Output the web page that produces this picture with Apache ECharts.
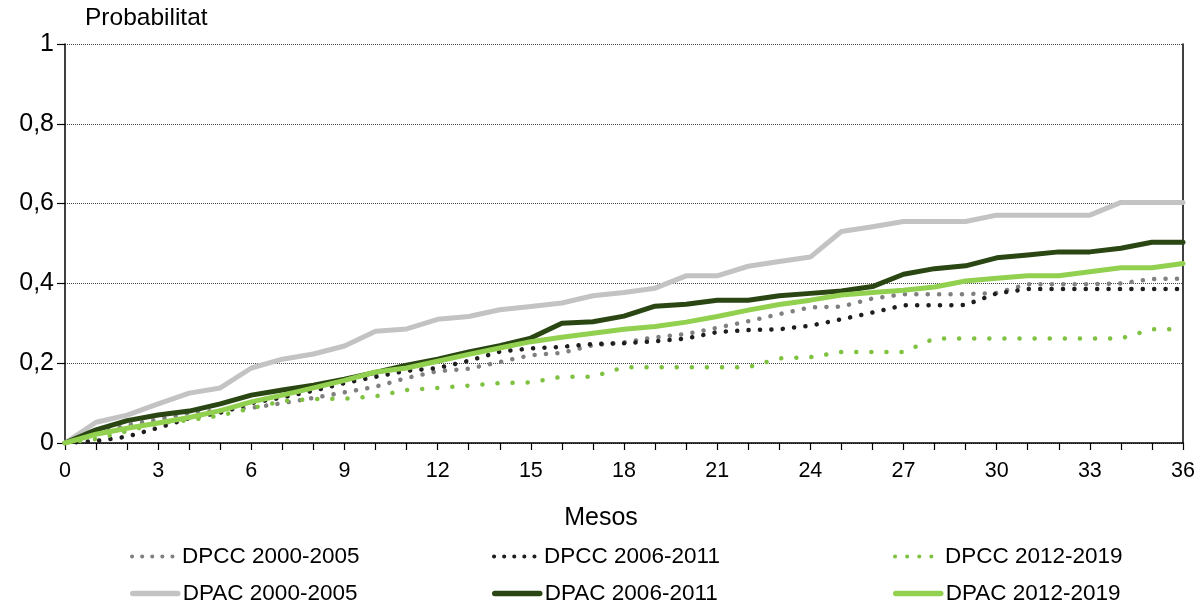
<!DOCTYPE html>
<html>
<head>
<meta charset="utf-8">
<script src="https://cdn.jsdelivr.net/npm/echarts@6/dist/echarts.min.js"></script>
<style>
html,body{margin:0;padding:0;background:#fff;}
#chart{width:1201px;height:606px;}
</style>
</head>
<body>
<div id="chart"></div>
<script>
var months = [0,1,2,3,4,5,6,7,8,9,10,11,12,13,14,15,16,17,18,19,20,21,22,23,24,25,26,27,28,29,30,31,32,33,34,35,36];

var seriesNames = ['DPCC 2000-2005','DPCC 2006-2011','DPCC 2012-2019','DPAC 2000-2005','DPAC 2006-2011','DPAC 2012-2019'];

var dpcc2000 = [0,0.022,0.045,0.059,0.075,0.082,0.088,0.1,0.113,0.127,0.141,0.163,0.18,0.186,0.203,0.22,0.226,0.245,0.252,0.265,0.273,0.289,0.305,0.323,0.34,0.342,0.362,0.373,0.373,0.373,0.376,0.398,0.398,0.398,0.4,0.411,0.412];
var dpcc2006 = [0,0.005,0.016,0.038,0.062,0.076,0.1,0.114,0.131,0.15,0.166,0.181,0.188,0.206,0.229,0.237,0.241,0.248,0.25,0.255,0.262,0.278,0.283,0.285,0.294,0.31,0.327,0.345,0.345,0.346,0.375,0.386,0.386,0.386,0.386,0.386,0.386];
var dpcc2012 = [0,0.01,0.03,0.05,0.057,0.069,0.087,0.105,0.11,0.111,0.117,0.133,0.138,0.144,0.15,0.152,0.166,0.166,0.19,0.19,0.19,0.19,0.19,0.212,0.215,0.228,0.228,0.228,0.262,0.262,0.262,0.262,0.262,0.262,0.262,0.285,0.285];
var dpac2000 = [0,0.052,0.07,0.098,0.125,0.138,0.188,0.21,0.223,0.243,0.28,0.286,0.31,0.317,0.334,0.342,0.351,0.369,0.377,0.388,0.419,0.419,0.443,0.455,0.466,0.53,0.542,0.555,0.555,0.555,0.571,0.571,0.571,0.571,0.603,0.603,0.603];
var dpac2006 = [0,0.033,0.056,0.07,0.08,0.098,0.12,0.133,0.145,0.16,0.177,0.195,0.21,0.228,0.244,0.263,0.3,0.304,0.318,0.343,0.348,0.358,0.358,0.369,0.375,0.381,0.392,0.423,0.437,0.444,0.464,0.471,0.479,0.479,0.488,0.503,0.503];
var dpac2012 = [0,0.022,0.037,0.05,0.064,0.081,0.103,0.12,0.138,0.157,0.178,0.188,0.205,0.222,0.238,0.254,0.265,0.275,0.285,0.292,0.303,0.317,0.333,0.347,0.358,0.371,0.377,0.383,0.391,0.406,0.413,0.419,0.419,0.429,0.439,0.439,0.45];

var xLabelStep = 3;

function pairs(arr){ return months.map(function(m,i){ return [m, arr[i]]; }); }

var FONT = 'Liberation Sans, Arial, sans-serif';

var styles = [
  {color:'#808080', width:4.5, type:[0.1,11.3]},
  {color:'#1e1e1e', width:4.5, type:[0.1,11.3]},
  {color:'#7ec23f', width:4.5, type:[0.1,15]},
  {color:'#c3c3c3', width:5, type:'solid'},
  {color:'#2a4613', width:5, type:'solid'},
  {color:'#92d050', width:5, type:'solid'}
];
var datas = [dpcc2000, dpcc2006, dpcc2012, dpac2000, dpac2006, dpac2012];

var series = seriesNames.map(function(n, i){
  var st = styles[i];
  return {
    name: n,
    type: 'line',
    symbol: 'none',
    data: pairs(datas[i]),
    color: st.color,
    lineStyle: {color: st.color, width: st.width, type: st.type, cap: 'round', join: 'round'},
    z: 2 + i,
    animation: false
  };
});

var legendLefts = [125, 487, 888];
var legendTops = [540, 577];
var legends = seriesNames.map(function(n, i){
  var st = styles[i];
  var dotted = i < 3;
  return {
    orient: 'horizontal',
    left: legendLefts[i % 3],
    top: legendTops[Math.floor(i / 3)],
    itemWidth: 45,
    itemHeight: 20,
    itemGap: 3,
    data: [n],
    itemStyle: {opacity: 0},
    lineStyle: {color: st.color, width: dotted ? 4 : 5.5, type: dotted ? (i === 2 ? [0.1, 12] : [0.1, 10]) : 'solid', cap: 'round'},
    textStyle: {fontFamily: FONT, fontSize: 22.5, color: '#000'}
  };
});

var chart = echarts.init(document.getElementById('chart'));
chart.setOption({
  animation: false,
  backgroundColor: '#fff',
  grid: {left: 65, right: 18, top: 44, bottom: 163, containLabel: false},
  legend: legends,
  xAxis: {
    type: 'value', min: 0, max: 36, interval: 1,
    name: 'Mesos', nameLocation: 'middle', nameGap: 63,
    nameTextStyle: {fontFamily: FONT, fontSize: 25, color: '#000', padding: [0, 46, 0, 0]},
    axisLine: {lineStyle: {color: '#000', width: 1.5}},
    axisTick: {show: true, length: 7, lineStyle: {color: '#000', width: 1.2}},
    axisLabel: {
      fontFamily: FONT, fontSize: 21.5, color: '#000', margin: 17,
      formatter: function(v){ return (v % xLabelStep === 0) ? String(v) : ''; }
    },
    splitLine: {show: false}
  },
  yAxis: [{
    type: 'value', min: 0, max: 1, interval: 0.2,
    name: 'Probabilitat', nameLocation: 'end', nameGap: 13,
    nameTextStyle: {fontFamily: FONT, fontSize: 24.5, color: '#000', align: 'left', padding: [0,0,0,20]},
    axisLine: {show: true, lineStyle: {color: '#000', width: 1.5}},
    axisTick: {show: true, length: 8, lineStyle: {color: '#000', width: 1.2}},
    axisLabel: {
      fontFamily: FONT, fontSize: 25, color: '#000', margin: 11,
      formatter: function(v){
        if (v === 0) return '0';
        if (Math.abs(v - 1) < 1e-9) return '1';
        return v.toFixed(1).replace('.', ',');
      }
    },
    splitLine: {show: true, lineStyle: {color: '#444', width: 1, type: 'dotted'}}
  }, {
    type: 'value', min: 0, max: 1, interval: 0.2, position: 'right',
    axisLine: {show: true, lineStyle: {color: '#000', width: 1.5}},
    axisTick: {show: false}, axisLabel: {show: false}, splitLine: {show: false}
  }],
  series: series
});
</script>
</body>
</html>
